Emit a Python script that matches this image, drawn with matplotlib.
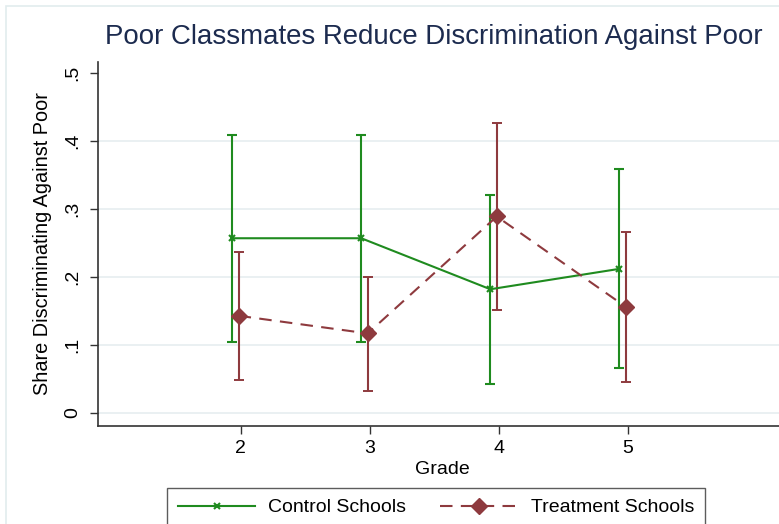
import matplotlib
matplotlib.use("Agg")
import matplotlib.pyplot as plt
from matplotlib.lines import Line2D
from matplotlib.patches import Rectangle

plt.rcParams['font.family'] = ['Liberation Sans', 'DejaVu Sans']

grades = [2, 3, 4, 5]
control_mean = [0.257, 0.257, 0.182, 0.212]
control_lo = [0.105, 0.105, 0.043, 0.066]
control_hi = [0.409, 0.409, 0.320, 0.359]
treat_mean = [0.143, 0.117, 0.289, 0.156]
treat_lo = [0.048, 0.033, 0.151, 0.046]
treat_hi = [0.237, 0.200, 0.426, 0.266]
yticks = [0, 0.1, 0.2, 0.3, 0.4, 0.5]
ytick_labels = ["0", ".1", ".2", ".3", ".4", ".5"]

green = "#1f8b1f"
maroon = "#8e3a3e"
navy = "#1c2b4f"
grid_c = "#e6eef0"

fig = plt.figure(figsize=(7.79, 5.24), dpi=100)
fig.patch.set_facecolor("white")
# outer light frame
fig.add_artist(Rectangle((6/779, -0.1), 1.2, 1.1 - 6/524, transform=fig.transFigure,
                         fill=False, edgecolor="#e2ecee", linewidth=1.2))

ax = fig.add_axes([98/779, 1 - 426/524, 1 - 98/779 + 0.01, (426 - 62)/524])

cx = [g - 0.065 for g in grades]
tx = [g - 0.015 for g in grades]

for y in yticks[:-1]:
    ax.axhline(y, color=grid_c, lw=1.2, zorder=0)

dash = (0, (6, 4))
ax.errorbar(cx, control_mean,
            yerr=[[m - l for m, l in zip(control_mean, control_lo)],
                  [h - m for m, h in zip(control_mean, control_hi)]],
            color=green, lw=1.5, marker='x', ms=5, mew=1.5, capsize=3.4,
            elinewidth=1.5, capthick=1.4, zorder=3)
ax.errorbar(tx, treat_mean,
            yerr=[[m - l for m, l in zip(treat_mean, treat_lo)],
                  [h - m for m, h in zip(treat_mean, treat_hi)]],
            color=maroon, lw=1.5, ls=dash, marker='D', ms=8,
            capsize=3.4, elinewidth=1.5, capthick=1.4, zorder=3)

x0 = 2 - 143/129.5
x1 = x0 + (779 * 1.0128 - 98) / 129.5
ax.set_xlim(x0, x1)
ax.set_ylim(-13/680, (413 - 62)/680)

ax.set_xticks(grades)
ax.set_xticklabels([str(g) for g in grades])
ax.set_yticks(yticks)
ax.set_yticklabels(ytick_labels, rotation=90, va='center')
ax.tick_params(axis='both', labelsize=14, length=6, width=1, color="#333333", pad=4)
ax.tick_params(axis='y', pad=6)

for s in ['top', 'right']:
    ax.spines[s].set_visible(False)
for s in ['left', 'bottom']:
    ax.spines[s].set_color("#333333")
    ax.spines[s].set_linewidth(1.2)

ax.set_xlabel("Grade", fontsize=14, labelpad=3)
ax.set_ylabel("Share Discriminating Against Poor", fontsize=14.3, labelpad=9)

fig.text(434/779, 1 - 37/524, "Poor Classmates Reduce Discrimination Against Poor",
         ha='center', va='center', fontsize=19.9, color=navy)

handles = [Line2D([], [], color=green, lw=1.5, marker='x', ms=5, mew=1.5),
           Line2D([], [], color=maroon, lw=1.5, ls=dash, marker='D', ms=8)]
leg = fig.legend(handles, ["Control Schools", "Treatment Schools"],
                 loc='upper left', bbox_to_anchor=(167/779, 1 - 488/524),
                 ncol=2, fontsize=14, frameon=True, fancybox=False,
                 handlelength=4.0, handletextpad=0.65, columnspacing=1.75,
                 borderpad=0.55, borderaxespad=0)
leg.get_frame().set_edgecolor("#333333")
leg.get_frame().set_linewidth(1.0)

fig.savefig("out.png", dpi=100)
